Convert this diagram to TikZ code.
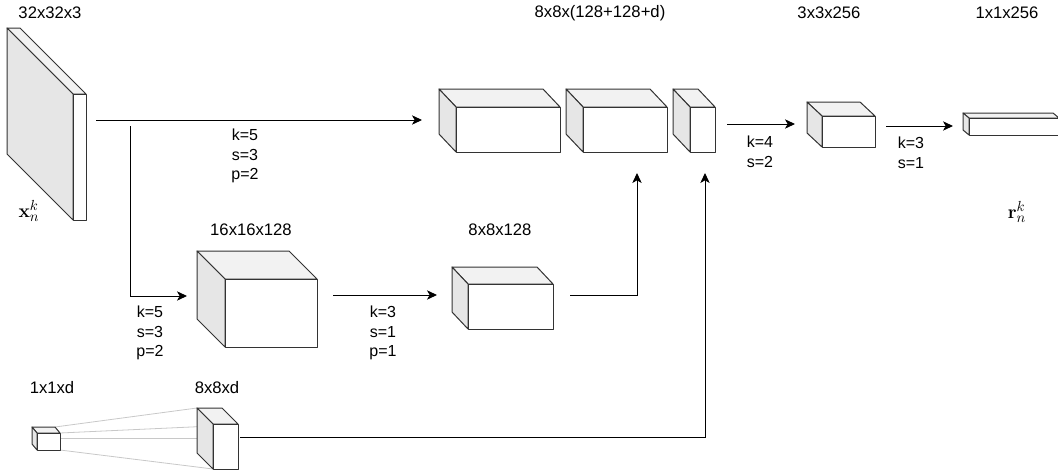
\documentclass[tikz,border=0pt]{standalone}
\usepackage{amsmath,amssymb}
\usepackage[no-math]{fontspec}
\setmainfont{Liberation Sans}
\usepackage{xcolor}
\definecolor{sidegray}{RGB}{230, 230, 230}
\definecolor{topgray}{RGB}{242, 242, 242}
\definecolor{edgegray}{RGB}{51, 51, 51}
\definecolor{raygray}{RGB}{200, 200, 200}
\usepackage{tikz}
\usetikzlibrary{arrows.meta}

% feature block: front face (x1,y1)-(x2,y2), depth (dx,dy)
\newcommand{\featblock}[6]{%
  \filldraw[topface] (#1,#2) -- (#1-#5,#2-#6) -- (#3-#5,#2-#6) -- (#3,#2) -- cycle;
  \filldraw[sideface] (#1,#2) -- (#1-#5,#2-#6) -- (#1-#5,#4-#6) -- (#1,#4) -- cycle;
  \filldraw[frontface] (#1,#2) rectangle (#3,#4);
}

\begin{document}
\begin{tikzpicture}[x=0.75pt, y=-0.75pt,
    blockedge/.style={draw=edgegray, line width=0.75pt, line join=round},
    topface/.style={blockedge, fill=topgray},
    sideface/.style={blockedge, fill=sidegray},
    frontface/.style={blockedge, fill=white},
    flow/.style={line width=0.75pt, -{Stealth[length=7.5pt, width=7pt, inset=2pt]}},
    ray/.style={raygray, line width=0.6pt},
    dimlabel/.style={font=\fontsize{12.5}{15}\selectfont, inner sep=0pt},
    convlabel/.style={font=\fontsize{12}{14.6}\selectfont, align=center, inner sep=0pt},
    veclabel/.style={font=\fontsize{15}{18}\selectfont, inner sep=0pt}]
    \useasboundingbox (0,0) rectangle (1058,471);
    \clip (0,0) rectangle (1058,471);

    % Blocks
    \featblock{73}{94}{86}{220}{66}{66}
    \featblock{225}{279}{317}{347}{28}{28}
    \featblock{468}{284}{553}{329}{16}{17}
    \featblock{456}{107}{560}{152}{17}{18}
    \featblock{583}{107}{667}{152}{17}{18}
    \featblock{690}{107}{715}{152}{17}{18}
    \featblock{822}{116}{875}{147}{15}{14}
    \featblock{969}{118}{1059}{135}{6}{5}

    % Embedding of d
    \draw[ray] (55,427) -- (197,408);
    \draw[ray] (60,433) -- (213,426);
    \draw[ray] (60,438) -- (197,438);
    \draw[ray] (60,450) -- (213,469);
    \featblock{37}{433}{60}{450}{5}{6}
    \featblock{213}{424}{238}{469}{16}{16}

    % Connector ends
    \coordinate (InOut) at (96,120);
    \coordinate (CatIn) at (422,120);
    \coordinate (Split) at (130,126);
    \coordinate (SplitBend) at (130,296);
    \coordinate (BSixteenIn) at (187,296);
    \coordinate (BSixteenOut) at (333,295);
    \coordinate (BEightIn) at (437,295);
    \coordinate (BEightOut) at (570,295);
    \coordinate (BEightBend) at (637,295);
    \coordinate (CatInB) at (637,173);
    \coordinate (DOut) at (240,437);
    \coordinate (DBend) at (705,437);
    \coordinate (CatInD) at (705,173);
    \coordinate (CatOut) at (727,124);
    \coordinate (BThreeIn) at (795,124);
    \coordinate (BThreeOut) at (886,126);
    \coordinate (VecIn) at (953,126);

    % Connectors
    \draw[flow] (InOut) -- (CatIn);
    \draw[flow] (Split) -- (SplitBend) -- (BSixteenIn);
    \draw[flow] (BSixteenOut) -- (BEightIn);
    \draw[flow] (BEightOut) -- (BEightBend) -- (CatInB);
    \draw[flow] (DOut) -- (DBend) -- (CatInD);
    \draw[flow] (CatOut) -- (BThreeIn);
    \draw[flow] (BThreeOut) -- (VecIn);

    % Sizes
    \node[dimlabel] (InSize) at (50,13) {32x32x3};
    \node[dimlabel] (CatSize) at (600,13) {8x8x(128+128+d)};
    \node[dimlabel] (BThreeSize) at (829,13) {3x3x256};
    \node[dimlabel] (VecSize) at (1007,13) {1x1x256};
    \node[dimlabel] (BSixteenSize) at (251,230) {16x16x128};
    \node[dimlabel] (BEightSize) at (500,230) {8x8x128};
    \node[dimlabel] (DOneSize) at (52,388) {1x1xd};
    \node[dimlabel] (DEightSize) at (217,388) {8x8xd};

    % Convolution settings
    \node[convlabel] (ConvA) at (245,156) {k=5\\s=3\\p=2};
    \node[convlabel] (ConvB) at (150,333) {k=5\\s=3\\p=2};
    \node[convlabel] (ConvC) at (383,333) {k=3\\s=1\\p=1};
    \node[convlabel] (ConvD) at (760,152) {k=4\\s=2};
    \node[convlabel] (ConvE) at (911,153) {k=3\\s=1};

    % In and out
    \node[veclabel] (XVec) at (29,211) {$\mathbf{x}_n^k$};
    \node[veclabel] (RVec) at (1017,212) {$\mathbf{r}_n^k$};
\end{tikzpicture}
\end{document}
